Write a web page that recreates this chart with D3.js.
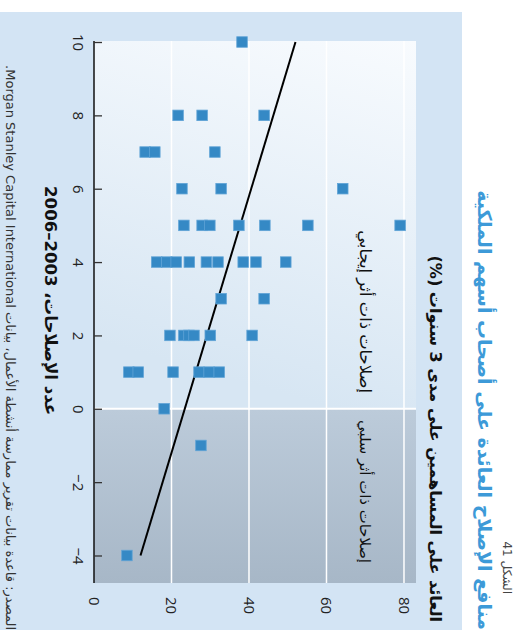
<!DOCTYPE html>
<html><head><meta charset="utf-8">
<script src="https://cdn.jsdelivr.net/npm/d3@7"></script>
<style>body{margin:0;background:#fff}svg{display:block}</style>
</head><body>
<script>
// ---- data ----
const xTicks = [10, 8, 6, 4, 2, 0, -2, -4];
const yTicks = [0, 20, 40, 60, 80];
const reforms = [10, 8, 8, 8, 7, 7, 7, 6, 6, 6, 5, 5, 5, 5, 5, 5, 5,
  4, 4, 4, 4, 4, 4, 4, 4, 4, 3, 3, 2, 2, 2, 2, 2, 2,
  1, 1, 1, 1, 1, 1, 0, -1, -4];
const returns = [38.2, 21.7, 27.9, 43.9, 13.2, 15.7, 31.2, 22.7, 32.8, 64.2,
  23.2, 27.9, 29.9, 37.4, 44.1, 55.2, 79.0,
  16.2, 18.8, 21.2, 24.6, 29.0, 32.0, 38.5, 41.8, 49.5,
  32.8, 43.9, 19.6, 23.2, 24.5, 25.8, 30.0, 40.8,
  9.0, 11.4, 20.4, 27.1, 29.7, 32.3, 18.1, 27.6, 8.5];
const fitX = [-4, 10];
const fitY = [12, 52];
const title = "منافع الإصلاح العائدة على أصحاب أسهم الملكية";
const figLabel = "الشكل 41";
const yTitle = "العائد على المساهمين على مدى 3 سنوات (%)";
const xTitle = "عدد الإصلاحات، 2003–2006";
const posLabel = "إصلاحات ذات أثر إيجابي";
const negLabel = "إصلاحات ذات أثر سلبي";
const source = "المصدر: قاعدة بيانات تقرير ممارسة أنشطة الأعمال، بيانات Morgan Stanley Capital International.";

// ---- layout (drawn in unrotated frame 640 x 522, then rotated) ----
const svg = d3.select("body").append("svg").attr("width", 522).attr("height", 640);
const defs = svg.append("defs");
const g1 = defs.append("linearGradient").attr("id", "gPos").attr("x1", "0").attr("x2", "1").attr("y1", "0").attr("y2", "0.25");
g1.append("stop").attr("offset", "0").attr("stop-color", "#f8fbfe");
g1.append("stop").attr("offset", "1").attr("stop-color", "#d7e6f3");
const g2 = defs.append("linearGradient").attr("id", "gNeg").attr("x1", "0").attr("x2", "1").attr("y1", "0").attr("y2", "0");
g2.append("stop").attr("offset", "0").attr("stop-color", "#bccbda");
g2.append("stop").attr("offset", "1").attr("stop-color", "#a7b7c7");

const g = svg.append("g").attr("transform", "translate(522,0) rotate(90)");

const x = d3.scaleLinear().domain([10, -4.75]).range([42, 583]);
const y = d3.scaleLinear().domain([0, 83.1]).range([428, 106]);

const AR = "'DejaVu Sans', sans-serif";
const NUM = "'Open Sans', 'DejaVu Sans', sans-serif";

// background panel
g.append("rect").attr("x", 12).attr("y", 60).attr("width", 618).attr("height", 462).attr("fill", "#d3e4f4");

// plot regions
g.append("rect").attr("x", 41).attr("y", y(83.1)).attr("width", x(0) - 41).attr("height", y(0) - y(83.1)).attr("fill", "url(#gPos)");
g.append("rect").attr("x", x(0)).attr("y", y(83.1)).attr("width", x(-4.75) - x(0)).attr("height", y(0) - y(83.1)).attr("fill", "url(#gNeg)");

// gridlines
g.selectAll(".grid").data(yTicks.filter(d => d > 0)).join("line")
  .attr("x1", 41).attr("x2", 583).attr("y1", d => y(d)).attr("y2", d => y(d))
  .attr("stroke", "#ffffff").attr("stroke-width", 1.5);
g.append("line").attr("x1", x(0)).attr("x2", x(0)).attr("y1", y(0)).attr("y2", y(83.1))
  .attr("stroke", "#ffffff").attr("stroke-width", 2);

// x axis (bottom in unrotated frame)
const xAxis = d3.axisBottom(x).tickValues(xTicks).tickSizeInner(-8).tickSizeOuter(0).tickPadding(10)
  .tickFormat(d => d < 0 ? "\u2212" + Math.abs(d) : d);
const xa = g.append("g").attr("transform", `translate(0,${y(0)})`).call(xAxis);
xa.select(".domain").attr("d", `M41,0H583`).attr("stroke", "#111").attr("stroke-width", 1.5);
xa.selectAll(".tick line").attr("stroke", "#333").attr("stroke-width", 1.3);
xa.selectAll(".tick text").attr("font-family", NUM).attr("font-size", 15).attr("fill", "#222");

// y axis labels (right side in unrotated frame)
g.selectAll(".ylab").data(yTicks).join("text")
  .attr("x", 597).attr("y", d => y(d)).attr("dy", "0.35em")
  .attr("font-family", NUM).attr("font-size", 15).attr("fill", "#222")
  .text(d => d);

// fitted line
const line = d3.line().x(d => x(d[0])).y(d => y(d[1]));
g.append("path").datum(fitX.map((v, i) => [v, fitY[i]])).attr("d", line)
  .attr("fill", "none").attr("stroke", "#000").attr("stroke-width", 2);

// points
const S = 10.5;
g.selectAll(".pt").data(reforms.map((r, i) => [r, returns[i]])).join("rect")
  .attr("x", d => x(d[0]) - S / 2).attr("y", d => y(d[1]) - S / 2)
  .attr("width", S).attr("height", S)
  .attr("fill", "#3589c5").attr("stroke", "#5fa3d6").attr("stroke-width", 0.8);

// text helper: right-aligned RTL text, optionally fitted to a target width
function rText(str, left, right, yy, size, weight, color, fit) {
  const t = g.append("text").attr("text-anchor", "middle").attr("direction", "rtl")
    .attr("y", yy).attr("font-family", AR).attr("font-size", size)
    .attr("font-weight", weight).attr("fill", color).text(str);
  let w = t.node().getComputedTextLength();
  if (fit) {
    t.attr("font-size", size * (right - left) / w);
    w = t.node().getComputedTextLength();
  }
  t.attr("x", right - w / 2);
  return t;
}
rText(title, 190, 630, 44, 18.5, "bold", "#3d9ad8", true);
rText(figLabel, 560, 594, 19, 12, "normal", "#444", false);
rText(yTitle, 255, 622, 92, 15, "bold", "#111", true);
rText(posLabel, 230, 393, 162, 14, "normal", "#111", true);
rText(negLabel, 420, 563, 162, 14, "normal", "#111", true);
rText(source, 65, 630, 516, 12, "normal", "#333", true);
rText(xTitle, 186, 415, 477, 15, "bold", "#111", true);
</script>
</body></html>
